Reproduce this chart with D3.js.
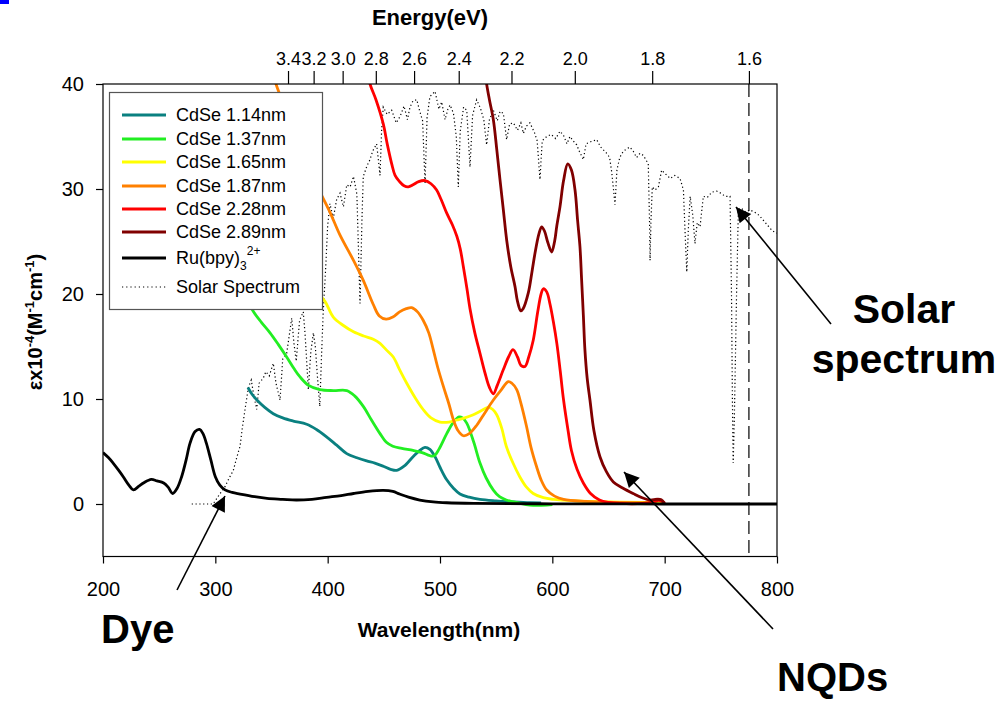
<!DOCTYPE html>
<html>
<head>
<meta charset="utf-8">
<script src="https://cdn.jsdelivr.net/npm/d3@7"></script>
<style>
  html, body { margin: 0; padding: 0; background: #fff; }
  svg { display: block; font-family: "Liberation Sans", Arial, sans-serif; }
</style>
</head>
<body>
<svg id="chart" width="1002" height="701"></svg>
<script>
// ---------- data (wavelength nm, epsilon x10^-4) ----------
const xTicks = [200, 300, 400, 500, 600, 700, 800];
const yTicks = [0, 10, 20, 30, 40];
const energyTicks = [3.4, 3.2, 3.0, 2.8, 2.6, 2.4, 2.2, 2.0, 1.8, 1.6];
const cutoffEnergy = 1.6;

const ru = [[200,4.9],[205,4.4],[209,3.9],[214,3.2],[218,2.6],[223,1.8],[227,1.35],[232,1.7],[236,2.0],[243,2.35],[248,2.2],[254,2.0],[258,1.6],[262,1.0],[266,1.5],[270,2.6],[274,4.2],[277.5,5.8],[282,6.9],[286,7.1],[289,6.7],[292,5.8],[296,4.2],[300,2.6],[304,1.8],[308.6,1.35],[315,1.1],[322,0.95],[335,0.7],[346,0.54],[360,0.45],[372,0.38],[386,0.45],[399,0.63],[412,0.8],[423,1.0],[436,1.2],[449.5,1.3],[458,1.2],[464,0.95],[472,0.65],[482,0.38],[494,0.2],[506,0.12],[530,0.06],[600,0.02],[700,0],[800,0]];

const cdse114 = [[329,11.1],[333,10.4],[337,9.9],[344,9.2],[351.6,8.6],[360,8.2],[369.4,7.9],[381.3,7.6],[390,7.1],[399,6.4],[408,5.6],[417,4.8],[426,4.4],[434.7,4.1],[442,3.9],[449.5,3.6],[456,3.3],[461.5,3.2],[468,3.6],[476,4.5],[482,5.1],[486.6,5.4],[491,5.2],[495.6,4.5],[500,3.5],[506,2.3],[512,1.5],[517.8,0.95],[526,0.65],[535.6,0.44],[550,0.3],[565,0.2],[580,0.12],[590,0.1]];

const cdse137 = [[300,26],[315,22.5],[325,20.2],[334,18.3],[341,17.3],[348.7,16.3],[356,15.2],[363.5,14.0],[370,12.9],[375.4,12.1],[383,11.3],[393,10.9],[405,10.8],[417,10.8],[424,10.3],[431.7,9.3],[439,8.0],[446.6,6.7],[452,5.9],[458,5.5],[466,5.3],[476,5.1],[484,4.9],[491,4.6],[495,4.6],[499,5.2],[506,6.7],[512,7.8],[517,8.3],[520,8.2],[523.8,7.7],[530,5.9],[535.6,3.9],[541,2.5],[547.5,1.33],[553,0.7],[559,0.38],[570,0.1],[580,-0.1],[595,-0.1],[600,-0.05]];

const cdse165 = [[350,26],[365,23.5],[380,21.3],[390,20.2],[397.6,19.3],[405,17.8],[414,17.0],[423,16.4],[432,16.0],[440.6,15.7],[446.6,15.3],[452,14.7],[458.4,14.0],[464,12.8],[470.4,11.5],[478,10.1],[485,9.0],[492,8.2],[500,7.8],[508,7.8],[515,8.0],[522,8.2],[529.7,8.5],[537,8.9],[543,9.2],[547,9.0],[550.5,8.5],[555,7.2],[559,5.5],[565,3.9],[571,2.6],[577,1.6],[583,1.0],[592,0.6],[601,0.44],[620,0.3],[650,0.2],[680,0.15],[700,0.1]];

const cdse187 = [[348,42.5],[354,40],[365,37],[380,33],[392,30],[402,27.8],[411,25.6],[423,23.2],[431.7,21.3],[440.6,19.0],[446,17.9],[452,17.6],[458,17.8],[464,18.3],[470,18.6],[474.8,18.7],[480,18.3],[485,17.5],[490,16.3],[494,14.7],[498,13.0],[503,11.2],[508,9.5],[512,8.0],[516,7.0],[520.8,6.5],[526,6.7],[532.7,7.5],[540,8.7],[547.5,9.9],[554,10.8],[560.8,11.65],[564,11.5],[568.3,10.9],[572,9.6],[577,7.4],[581,5.4],[586,3.55],[590,2.3],[595,1.33],[602,0.75],[610,0.44],[630,0.25],[660,0.15],[690,0.1]];

const cdse228 = [[435,41.5],[437.7,40],[443,38.5],[449.5,36.2],[453,34.3],[457,32.4],[460,31.3],[464,30.7],[468,30.3],[471.8,30.2],[476,30.4],[481,30.7],[486.7,30.8],[492,30.5],[497,29.9],[501,29.0],[506,27.7],[511,26.6],[515,25.5],[518,24.3],[520.8,22.6],[524,20.5],[526.7,18.6],[531,16.3],[535.6,14.35],[540,12.5],[544,11.1],[547.5,10.5],[551,11.3],[556.4,12.8],[561,14.0],[565,14.7],[569,14.0],[572,13.2],[575.7,13.1],[579,14.0],[583,15.6],[587,18.3],[590,20.0],[592,20.5],[595,20.2],[598,19.0],[601,17.3],[604,15.3],[607,12.7],[610,9.9],[614,7.0],[617,5.1],[622,3.3],[627.6,2.0],[634,1.0],[642,0.38],[650,0.15],[660,0.05],[680,0.05],[690,0.2],[695,0.35],[700,0.1]];

const cdse289 = [[539,42],[541.5,40],[544,38.5],[547.5,36.6],[550.5,33.8],[553.4,30.9],[556.4,28.0],[559.4,25.1],[563,22.6],[566.8,20.7],[569,19.3],[571.9,18.4],[574,18.6],[578.6,20.1],[582,22.2],[584.6,23.9],[588,25.7],[590.5,26.4],[593,26.0],[596,24.9],[599.4,24.0],[602,25.0],[604,26.5],[606.8,28.3],[610,30.8],[613.7,32.4],[617,31.8],[620.2,29.9],[622.5,27.0],[624.6,24.5],[626,21.5],[627.6,18.0],[629,14.7],[631,12.0],[633.5,9.9],[637,7.0],[642.4,4.5],[648,3.1],[654.3,2.1],[663,1.5],[672,1.0],[680,0.6],[687,0.38],[693,0.45],[697,0.4],[700,0.05]];

const solar = [[279,0],[298,0],[303,0.8],[308.6,1.65],[312,2.4],[316,3.2],[319,4.4],[322,5.5],[324,7.2],[326.4,9.0],[329.4,11.1],[332,11.8],[334,10.5],[336.8,9.0],[339,11.5],[342.7,12.0],[345,12.6],[348,12.2],[351.6,13.4],[354,11.5],[357.6,9.9],[360,13.8],[363.5,14.35],[366,16.2],[368,17.7],[370,15.3],[372,13.6],[375,17.5],[378.3,18.3],[380,16],[382.8,10.9],[385,14.5],[387.3,16.3],[389,15],[391,12],[393,9.3],[394.5,14],[396,18.2],[398,22],[400,26.5],[402,28.6],[405,27.2],[408,29.0],[411,29.6],[414,28.3],[417,30.4],[420,30.2],[423,31.2],[426,29.5],[428.8,19.1],[430.5,27],[431.7,31.2],[435,32.2],[437.7,32.8],[440,33.6],[443.6,34.3],[446.6,31.3],[448,35.5],[449.5,37.8],[453,37.1],[457,37.5],[461,36.3],[464.4,36.9],[468,37.9],[471,36.6],[473.3,37.8],[476,38.4],[479.3,38.5],[482,37.4],[484.5,36.5],[486.7,30.5],[488.5,36.8],[491,38.8],[495.6,39.3],[499,37.6],[501.5,38.3],[504.5,36.6],[507,37.6],[509,38.0],[512,37.2],[514.5,35],[516.3,30.2],[518,35.5],[521,37.8],[523.8,37.5],[526.7,32.1],[529,37.0],[532.6,38.5],[536,37.7],[539,36.6],[541.5,34.2],[544,36.6],[547.5,37.5],[551,36.5],[553.5,37.4],[556.4,37.2],[559.3,34.7],[562,36.2],[565.3,36.3],[569,35.6],[572,36.3],[574.2,35.3],[577,36.0],[580,36.3],[584,35.4],[586.5,34.6],[589,30.9],[591,34.6],[595,35.0],[599,35.2],[603,34.8],[606.8,35.5],[610,35.1],[613,34.3],[615.7,35.0],[618.5,34.6],[621.7,34.2],[624,33.6],[627.6,32.8],[630,34.3],[634,34.5],[639.5,34.7],[643,34.0],[648.4,33.4],[651,33.0],[653,31.5],[655.8,28.5],[657.5,31.8],[660,33.0],[663.2,33.6],[666,33.8],[669,34.0],[672,33.6],[675,33.0],[678,33.4],[681,33.2],[685.4,32.4],[686.5,27],[687,23.2],[687.8,27],[689,30.2],[691.4,29.9],[694.4,30.2],[697.3,31.8],[701,31.4],[705,31.0],[709,31.3],[713.7,31.0],[716.7,29.9],[718.5,25],[719.7,22.1],[721,26],[722.7,29.3],[725,27.5],[727,24.8],[729,26.8],[731.5,26.4],[734.4,29.3],[738,29.2],[742,29.7],[746.3,29.8],[750,29.6],[754,29.3],[758.2,29.3],[759.5,20],[760.3,10],[761,3.9],[762,8],[763,14],[764,20],[765.6,28.0],[768,28.2],[772,27.8],[776,28.0],[780,27.8],[784,27.5],[788,27.0],[792,26.5],[796,26.0],[800,25.8]];

const seriesNames = ["CdSe 1.14nm","CdSe 1.37nm","CdSe 1.65nm","CdSe 1.87nm","CdSe 2.28nm","CdSe 2.89nm","Ru(bpy)3 2+","Solar Spectrum"];
const seriesColors = ["#0a8080","#22ee22","#ffff00","#ff8000","#ff0000","#800000","#000000","#000000"];

// ---------- layout ----------
const svg = d3.select("#chart");
const L = 103, R = 777, T = 84, B = 556.5;
const x = d3.scaleLinear().domain([200, 800]).range([L, R]);
const y = d3.scaleLinear().domain([-5, 40]).range([B, T]);
const hc = 1240; // eV*nm

svg.append("rect").attr("x",0).attr("y",0).attr("width",9).attr("height",4).attr("fill","#0000ff");

svg.append("defs").append("clipPath").attr("id","clip")
  .append("rect").attr("x",L).attr("y",T).attr("width",R-L).attr("height",B-T);

const plot = svg.append("g").attr("clip-path","url(#clip)");

// solar spectrum (dotted, linear)
plot.append("path").datum(solar)
  .attr("d", d3.line().x(d=>x(d[0])).y(d=>y(d[1])))
  .attr("fill","none").attr("stroke","#000").attr("stroke-width",1.2)
  .attr("stroke-dasharray","1.2,2.6");

const curveSeries = [cdse114, cdse137, cdse165, cdse187, cdse228, cdse289, ru];
curveSeries.forEach((s, i) => {
  plot.append("path").datum(s)
    .attr("d", d3.line().x(d=>x(d[0])).y(d=>y(d[1])).curve(d3.curveCatmullRom.alpha(0.5)))
    .attr("fill","none").attr("stroke", seriesColors[i]).attr("stroke-width", 2.8)
    .attr("stroke-linejoin","round");
});

// dashed cutoff line at 1.6 eV
svg.append("line")
  .attr("x1", x(hc/cutoffEnergy)).attr("x2", x(hc/cutoffEnergy))
  .attr("y1", T).attr("y2", B)
  .attr("stroke","#000").attr("stroke-width",1.2).attr("stroke-dasharray","13,6");

// frame
svg.append("rect").attr("x",L).attr("y",T).attr("width",R-L).attr("height",B-T)
  .attr("fill","none").attr("stroke","#000").attr("stroke-width",1.2);

// axes
function styleAxis(g, size) {
  g.select(".domain").remove();
  g.selectAll(".tick line").attr("stroke","#000").attr("stroke-width",1.2);
  g.selectAll(".tick text").attr("font-size", size).attr("fill","#000")
    .attr("font-family","Liberation Sans, Arial, sans-serif");
}
svg.append("g").attr("transform",`translate(0,${B})`)
  .call(d3.axisBottom(x).tickValues(xTicks).tickSize(7).tickPadding(18).tickFormat(d3.format("d")))
  .call(g => styleAxis(g, 20));
svg.append("g").attr("transform",`translate(${L},0)`)
  .call(d3.axisLeft(y).tickValues(yTicks).tickSize(7).tickPadding(12).tickFormat(d3.format("d")))
  .call(g => styleAxis(g, 20));
svg.append("g").attr("transform",`translate(0,${T})`)
  .call(d3.axisTop(x).tickValues(energyTicks.map(e => hc/e)).tickSize(13).tickPadding(6)
        .tickFormat(d => (hc/d).toFixed(1)))
  .call(g => styleAxis(g, 18));

// axis titles
svg.append("text").attr("x",430).attr("y",25).attr("text-anchor","middle")
  .attr("font-size",22).attr("font-weight","bold").text("Energy(eV)");
svg.append("text").attr("x",439).attr("y",637).attr("text-anchor","middle")
  .attr("font-size",21).attr("font-weight","bold").text("Wavelength(nm)");

const yl = svg.append("text").attr("transform","translate(42,322) rotate(-90)")
  .attr("text-anchor","middle").attr("font-size",20).attr("font-weight","bold");
yl.append("tspan").text("εx10");
yl.append("tspan").attr("font-size",13).attr("dy",-8).text("-4");
yl.append("tspan").attr("dy",8).text("(M");
yl.append("tspan").attr("font-size",13).attr("dy",-8).text("-1");
yl.append("tspan").attr("dy",8).text("cm");
yl.append("tspan").attr("font-size",13).attr("dy",-8).text("-1");
yl.append("tspan").attr("dy",8).text(")");

// legend
const leg = svg.append("g");
leg.append("rect").attr("x",109.5).attr("y",92.5).attr("width",213).attr("height",217)
  .attr("fill","#fff").attr("stroke","#555").attr("stroke-width",1.2);
const rowsY = [115,139,162,186,209,232,258,287];
seriesNames.forEach((name, i) => {
  const ry = rowsY[i];
  const ln = leg.append("line").attr("x1",122).attr("x2",166).attr("y1",ry).attr("y2",ry)
    .attr("stroke", seriesColors[i]);
  if (i === 7) ln.attr("stroke-width",1.2).attr("stroke-dasharray","1.2,3");
  else ln.attr("stroke-width",2.8);
  const t = leg.append("text").attr("x",176).attr("y",ry).attr("dy","0.36em").attr("font-size",18);
  if (i === 6) {
    t.append("tspan").text("Ru(bpy)");
    t.append("tspan").attr("font-size",12).attr("dy",6).text("3");
    t.append("tspan").attr("font-size",12).attr("dy",-15).text("2+");
  } else {
    t.text(name);
  }
});

// annotations
const defs = svg.select("defs");
defs.append("marker").attr("id","arrow").attr("viewBox","0 0 10 10")
  .attr("refX",10).attr("refY",5)
  .attr("markerUnits","userSpaceOnUse").attr("orient","auto")
  .attr("markerWidth",22).attr("markerHeight",15)
  .append("path").attr("d","M0,0 L10,5 L0,10 z").attr("fill","#000");

const arrows = [
  {x1:177, y1:590, x2:225, y2:496},
  {x1:773, y1:629, x2:624, y2:472},
  {x1:831, y1:324, x2:736, y2:207}
];
arrows.forEach(a => {
  svg.append("line").attr("x1",a.x1).attr("y1",a.y1).attr("x2",a.x2).attr("y2",a.y2)
    .attr("stroke","#000").attr("stroke-width",1.6).attr("marker-end","url(#arrow)");
});

svg.append("text").attr("x",101).attr("y",643).attr("font-size",40).attr("font-weight","bold").text("Dye");
svg.append("text").attr("x",777).attr("y",691).attr("font-size",40).attr("font-weight","bold").text("NQDs");
svg.append("text").attr("x",904).attr("y",323).attr("text-anchor","middle").attr("font-size",41).attr("font-weight","bold").text("Solar");
svg.append("text").attr("x",904).attr("y",373).attr("text-anchor","middle").attr("font-size",41).attr("font-weight","bold").text("spectrum");
</script>
</body>
</html>
